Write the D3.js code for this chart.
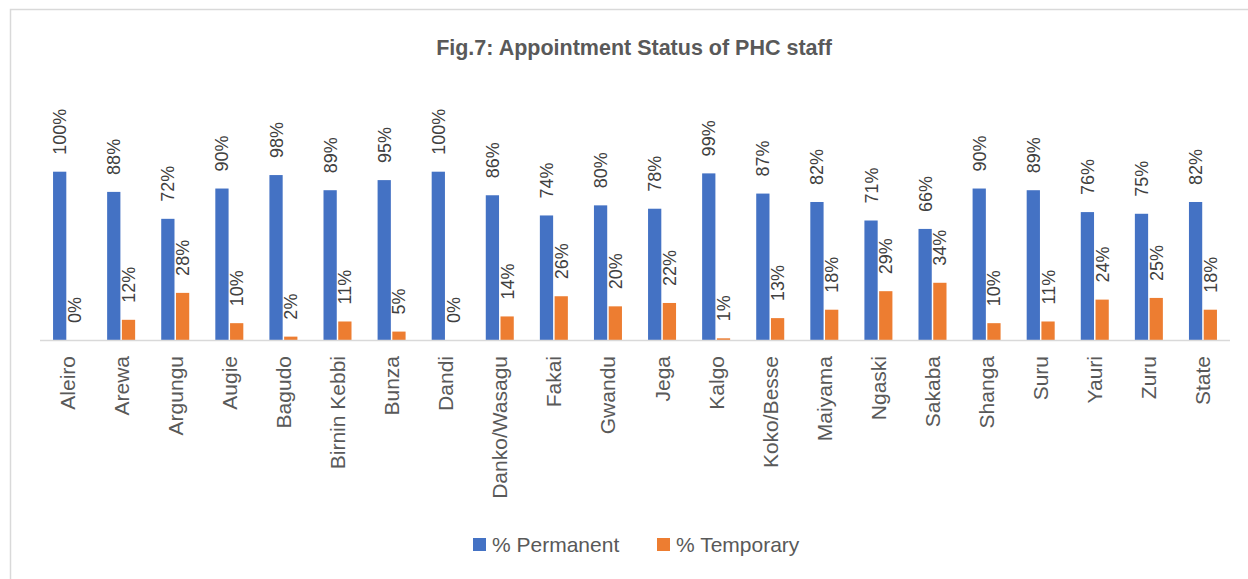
<!DOCTYPE html>
<html>
<head>
<meta charset="utf-8">
<script src="https://cdn.jsdelivr.net/npm/d3@7"></script>
<style>
  body { margin: 0; background: #fff; }
  svg { display: block; font-family: "Liberation Sans", Arial, sans-serif; }
</style>
</head>
<body>
<svg id="chart"></svg>
<script>
// данные графика
const categories = ["Aleiro", "Arewa", "Argungu", "Augie", "Bagudo", "Birnin Kebbi", "Bunza", "Dandi",
  "Danko/Wasagu", "Fakai", "Gwandu", "Jega", "Kalgo", "Koko/Besse", "Maiyama", "Ngaski", "Sakaba",
  "Shanga", "Suru", "Yauri", "Zuru", "State"];
const permanent = [100, 88, 72, 90, 98, 89, 95, 100, 86, 74, 80, 78, 99, 87, 82, 71, 66, 90, 89, 76, 75, 82];
const temporary = [0, 12, 28, 10, 2, 11, 5, 0, 14, 26, 20, 22, 1, 13, 18, 29, 34, 10, 11, 24, 25, 18];
const seriesNames = ["% Permanent", "% Temporary"];
const colors = ["#4472c4", "#ed7d31"];

const width = 1248;
const height = 579;
let svg = d3.select("#chart")
  .attr("width", width)
  .attr("height", height);

// рамка области диаграммы
svg.append("rect")
  .attr("x", 10.5).attr("y", 9.5)
  .attr("width", 1300).attr("height", 700)
  .attr("fill", "none")
  .attr("stroke", "#d9d9d9")
  .attr("stroke-width", 1.5);

// заголовок
svg.append("text")
  .attr("x", 634).attr("y", 55)
  .attr("text-anchor", "middle")
  .attr("font-size", 21.5)
  .attr("font-weight", "bold")
  .attr("fill", "#595959")
  .text("Fig.7: Appointment Status of PHC staff");

const baseY = 340;
const x = d3.scaleBand().domain(categories).range([40, 1230]);
const y = d3.scaleLinear().domain([0, 100]).range([baseY, baseY - 168.3]);
const xs = d3.scaleBand().domain([0, 1]).range([x.bandwidth() / 2 - 14, x.bandwidth() / 2 + 14]).paddingInner(0.1);

const data = categories.map((c, i) => ({ cat: c, vals: [permanent[i], temporary[i]] }));

let groups = svg.append("g").selectAll("g")
  .data(data)
  .join("g")
  .attr("transform", d => `translate(${x(d.cat)},0)`);

// столбцы
groups.selectAll("rect")
  .data(d => d.vals.map((v, k) => ({ v, k })))
  .join("rect")
  .attr("x", d => xs(d.k))
  .attr("y", d => y(d.v))
  .attr("width", xs.bandwidth())
  .attr("height", d => baseY - y(d.v))
  .attr("fill", d => colors[d.k]);

// подписи значений (повернуты)
groups.selectAll("text.val")
  .data(d => d.vals.map((v, k) => ({ v, k })))
  .join("text")
  .attr("class", "val")
  .attr("transform", d => `translate(${xs(d.k) + xs.bandwidth() / 2 + 6.5},${y(d.v) - 17}) rotate(-90)`)
  .attr("font-size", 18)
  .attr("fill", "#404040")
  .text(d => d.v + "%");

// ось X
svg.append("line")
  .attr("x1", 40).attr("x2", 1230)
  .attr("y1", baseY + 0.5).attr("y2", baseY + 0.5)
  .attr("stroke", "#d9d9d9")
  .attr("stroke-width", 1.5);

svg.append("g").selectAll("text")
  .data(categories)
  .join("text")
  .attr("transform", d => `translate(${x(d) + x.bandwidth() / 2 + 7.5},${baseY + 16}) rotate(-90)`)
  .attr("text-anchor", "end")
  .attr("font-size", 21)
  .attr("fill", "#595959")
  .text(d => d);

// легенда
const legendX = [473, 657];
seriesNames.forEach((name, i) => {
  svg.append("rect")
    .attr("x", legendX[i]).attr("y", 538)
    .attr("width", 13).attr("height", 13)
    .attr("fill", colors[i]);
  svg.append("text")
    .attr("x", legendX[i] + 19).attr("y", 552)
    .attr("font-size", 21)
    .attr("fill", "#595959")
    .text(name);
});
</script>
</body>
</html>
